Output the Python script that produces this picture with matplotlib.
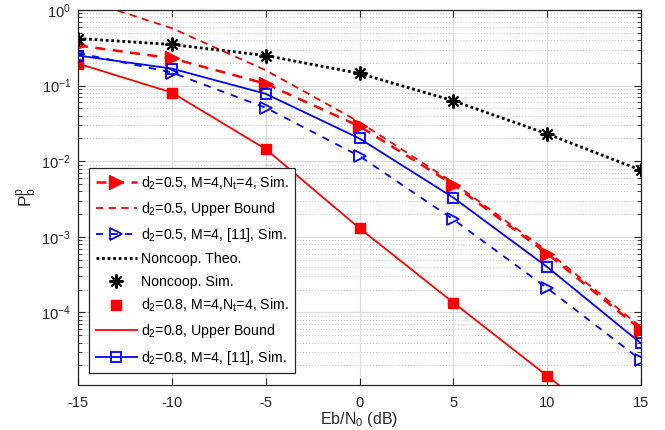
import matplotlib
matplotlib.use('Agg')
import matplotlib.pyplot as plt
import numpy as np
from matplotlib.ticker import LogLocator, NullFormatter

plt.rcParams['font.family'] = ['Liberation Sans', 'DejaVu Sans']
plt.rcParams['mathtext.fontset'] = 'custom'
plt.rcParams['mathtext.rm'] = 'Liberation Sans'
plt.rcParams['mathtext.it'] = 'Liberation Sans'
plt.rcParams['mathtext.bf'] = 'Liberation Sans:bold'

# Eb/N0 points (dB)
snr = [-15, -10, -5, 0, 5, 10, 15]
snr_sq = [-15, -10, -5, 0, 5, 10]

# d2 = 0.5
d05_sim = [0.34, 0.23, 0.106, 0.029, 0.0049, 6.0e-4, 5.9e-5]
d05_bound = [1.45, 0.575, 0.16, 0.033, 0.0052, 6.5e-4, 6.4e-5]
d05_ref11 = [0.27, 0.149, 0.051, 0.0117, 0.0017, 2.1e-4, 2.35e-5]

# noncooperative
nc_theo = [0.42, 0.35, 0.25, 0.145, 0.063, 0.023, 0.0076]
nc_sim = [0.42, 0.35, 0.25, 0.145, 0.063, 0.023, 0.0076]

# d2 = 0.8
d08_sim = [0.196, 0.081, 0.0145, 0.0013, 1.35e-4, 1.45e-5]
d08_bound = [0.196, 0.081, 0.0145, 0.0013, 1.35e-4, 1.45e-5, 1.55e-6]
d08_ref11 = [0.25, 0.168, 0.078, 0.020, 0.0033, 4.0e-4, 3.9e-5]

labels = [
    r'd$_2$=0.5, M=4,N$_\mathrm{t}$=4, Sim.',
    r'd$_2$=0.5, Upper Bound',
    r'd$_2$=0.5, M=4, [11], Sim.',
    'Noncoop. Theo.',
    'Noncoop. Sim.',
    r'd$_2$=0.8, M=4,N$_\mathrm{t}$=4, Sim.',
    r'd$_2$=0.8, Upper Bound',
    r'd$_2$=0.8, M=4, [11], Sim.',
]

fig = plt.figure(figsize=(6.65, 4.3), dpi=100)
ax = fig.add_axes([0.1173, 0.1047, 0.8467, 0.872])

ax.plot(snr, d05_sim, color='red', ls=(0, (4, 3)), lw=1.8, marker='>',
        ms=10, mfc='red', mec='red', label=labels[0])
ax.plot(snr, d05_bound, color='red', ls=(0, (4, 3)), lw=1.3, label=labels[1])
ax.plot(snr, d05_ref11, color='blue', ls=(0, (4, 4)), lw=1.3, marker='>',
        ms=9, mfc='none', mec='blue', mew=1.3, label=labels[2])
ax.plot(snr, nc_theo, color='black', ls=(0, (1, 1)), lw=2.0, label=labels[3])
ax.plot(snr, nc_sim, ls='none', marker=(8, 2, 0), ms=10, mec='black',
        mew=1.5, color='black', label=labels[4])
ax.plot(snr_sq, d08_sim, ls='none', marker='s', ms=7.5, color='red',
        label=labels[5])
ax.plot(snr, d08_bound, color='red', ls='-', lw=1.3, label=labels[6])
ax.plot(snr, d08_ref11, color='blue', ls='-', lw=1.3, marker='s', ms=7,
        mfc='none', mec='blue', mew=1.3, label=labels[7])

ax.set_yscale('log')
ax.set_xlim(-15, 15)
ax.set_ylim(1.1e-5, 1)
ax.set_xticks(snr)
ax.set_xticklabels([str(v) for v in snr])
ax.yaxis.set_major_locator(LogLocator(base=10, numticks=10))
ax.yaxis.set_minor_locator(LogLocator(base=10, subs=np.arange(2, 10), numticks=20))
ax.yaxis.set_minor_formatter(NullFormatter())

ax.grid(True, which='major', color='#dcdcdc', lw=0.9)
ax.grid(True, which='minor', axis='y', color='#c8c8c8', ls=(0, (1, 2)), lw=0.7)
ax.set_axisbelow(True)

ax.tick_params(which='both', direction='in', top=True, right=True,
               labelsize=10.5, colors='#262626')
ax.tick_params(axis='x', which='major', length=5, pad=8)
ax.tick_params(axis='y', which='major', length=5, pad=5)
ax.tick_params(which='minor', length=3)
for s in ax.spines.values():
    s.set_color('#262626')
    s.set_linewidth(0.9)

ax.set_xlabel(r'Eb/N$_0$ (dB)', fontsize=11.5, labelpad=0, color='#262626')
ax.set_ylabel(r'P$_\mathrm{b}^\mathrm{p}$', fontsize=12.5, labelpad=2, color='#262626')

leg = ax.legend(loc='lower left', bbox_to_anchor=(0.02, 0.032), fontsize=10.2,
                handlelength=2.9, fancybox=False, framealpha=1,
                edgecolor='#262626', borderpad=0.45, labelspacing=0.58,
                handletextpad=0.3, borderaxespad=0)
leg.get_frame().set_linewidth(0.9)

fig.savefig('out.png', dpi=100)
